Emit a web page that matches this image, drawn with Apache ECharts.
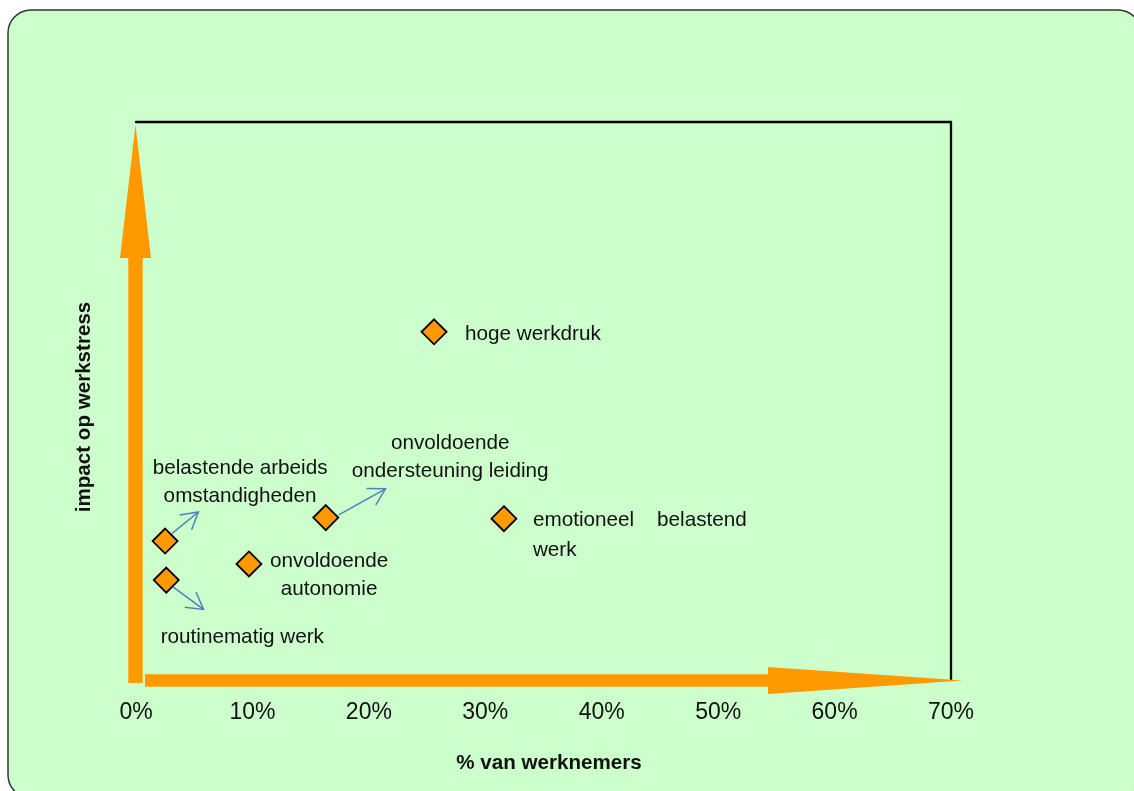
<!DOCTYPE html>
<html>
<head>
<meta charset="utf-8">
<script src="https://cdn.jsdelivr.net/npm/echarts@6/dist/echarts.min.js"></script>
<style>
  html, body { margin: 0; padding: 0; background: #ffffff; }
  #chart { width: 1134px; height: 791px; }
</style>
</head>
<body>
<div id="chart"></div>
<script>
// Stressoren: aandeel werknemers (x, %) tegenover impact op werkstress (y)
const categories = [
  'hoge werkdruk',
  'emotioneel belastend werk',
  'onvoldoende ondersteuning leiding',
  'onvoldoende autonomie',
  'belastende arbeidsomstandigheden',
  'routinematig werk'
];
const workerShare = [25.6, 31.6, 16.3, 9.7, 2.5, 2.6];
const stressImpact = [6.24, 2.89, 2.91, 2.08, 2.49, 1.79];
const labelTexts = [
  'hoge werkdruk',
  'emotioneel    belastend\nwerk',
  'onvoldoende\nondersteuning leiding',
  'onvoldoende\nautonomie',
  'belastende arbeids\nomstandigheden',
  'routinematig werk'
];
const xTicks = [0, 10, 20, 30, 40, 50, 60, 70];
const yRange = [0, 10];

// Label placement around each marker (pixels from the marker centre)
const labelLayout = [
  { align: 'left',   offset: [31, 2.5],    lineHeight: 28 },
  { align: 'left',   offset: [29, 17],     lineHeight: 30 },
  { align: 'center', offset: [124.4, -60.5], lineHeight: 28 },
  { align: 'center', offset: [80.2, 11.6], lineHeight: 28 },
  { align: 'center', offset: [75, -58.6],  lineHeight: 28 },
  { align: 'center', offset: [76, 56.8],   lineHeight: 28 }
];
// Small pointer arrows from a marker towards its label: [markerIndex, start offset, end offset]
const pointers = [
  [4, [6.7, -7.5], [33.3, -29.1]],
  [2, [13, -2.8], [59.7, -28.8]],
  [5, [6.7, 6.7], [37.3, 29.3]]
];

const FONT = '"Liberation Sans", Arial, sans-serif';
const ORANGE = '#ff9900';
const chart = echarts.init(document.getElementById('chart'), null, { renderer: 'canvas' });

const xMin = xTicks[0], xMax = xTicks[xTicks.length - 1];

const option = {
  animation: false,
  backgroundColor: 'transparent',
  grid: { left: 136, right: 183, top: 122, bottom: 111, containLabel: false, outerBoundsMode: 'none' },
  xAxis: [
    {
      type: 'value', min: xMin, max: xMax, interval: xTicks[1] - xTicks[0], position: 'bottom',
      axisLine: { show: false }, axisTick: { show: false }, splitLine: { show: false },
      axisLabel: {
        show: true, margin: 21, color: '#111', fontSize: 23, fontFamily: FONT,
        showMinLabel: true, showMaxLabel: true,
        formatter: v => v + '%'
      },
      name: '% van werknemers', nameLocation: 'middle', nameGap: 73,
      nameTextStyle: { color: '#111', fontSize: 20.6, fontWeight: 'bold', fontFamily: FONT, padding: [0, 0, 0, 11] }
    },
    {
      type: 'value', min: xMin, max: xMax, position: 'top',
      axisLine: { show: true, onZero: false, lineStyle: { color: '#000', width: 2.3 } },
      axisTick: { show: false }, axisLabel: { show: false }, splitLine: { show: false }
    }
  ],
  yAxis: [
    {
      type: 'value', min: yRange[0], max: yRange[1], position: 'left',
      axisLine: { show: false }, axisTick: { show: false }, axisLabel: { show: false }, splitLine: { show: false },
      name: 'impact op werkstress', nameLocation: 'middle', nameGap: 41,
      nameTextStyle: { color: '#111', fontSize: 20.6, fontWeight: 'bold', fontFamily: FONT, padding: [0, 12, 0, 0] }
    },
    {
      type: 'value', min: yRange[0], max: yRange[1], position: 'right',
      axisLine: { show: true, onZero: false, lineStyle: { color: '#000', width: 2.3 } },
      axisTick: { show: false }, axisLabel: { show: false }, splitLine: { show: false }
    }
  ],
  series: [{
    type: 'scatter',
    xAxisIndex: 0, yAxisIndex: 0,
    symbol: 'diamond',
    symbolSize: 25,
    z: 5,
    itemStyle: { color: ORANGE, borderColor: '#000', borderWidth: 1.8, opacity: 1 },
    emphasis: { disabled: true },
    data: workerShare.map((x, i) => ({
      name: categories[i],
      value: [x, stressImpact[i]],
      label: {
        show: true,
        position: 'inside',
        align: labelLayout[i].align,
        verticalAlign: 'middle',
        offset: labelLayout[i].offset,
        lineHeight: labelLayout[i].lineHeight,
        formatter: labelTexts[i],
        color: '#111',
        fontSize: 20.7,
        fontFamily: FONT
      }
    }))
  }]
};
chart.setOption(option);

// Decorative frame, axis arrows and pointers, placed from the chart's own scales
function px(x, y) { return chart.convertToPixel({ xAxisIndex: 0, yAxisIndex: 0 }, [x, y]); }

const origin = px(xMin, yRange[0]);
const topPt = px(xMin, yRange[1]);
const rightPt = px(xMax, yRange[0]);

const vx = origin[0] - 0.5;
const vTip = topPt[1] + 3, vBottom = origin[1] + 3, vHead = 133;
const vArrow = [
  [vx - 7.2, vBottom], [vx - 7.2, vTip + vHead], [vx - 15.5, vTip + vHead], [vx, vTip],
  [vx + 15.5, vTip + vHead], [vx + 7.2, vTip + vHead], [vx + 7.2, vBottom]
];
const hy = origin[1] + 0.5;
const hStart = origin[0] + 9, hTip = rightPt[0] + 12, hHead = 195;
const hArrow = [
  [hStart, hy - 6.3], [hTip - hHead, hy - 6.3], [hTip - hHead, hy - 13.5], [hTip, hy],
  [hTip - hHead, hy + 13.5], [hTip - hHead, hy + 6.3], [hStart, hy + 6.3]
];

const graphics = [
  {
    type: 'rect', z: -10, silent: true,
    shape: { x: 8, y: 10, width: 1133, height: 788, r: 23 },
    style: { fill: '#ccffcc', stroke: '#333333', lineWidth: 1.5 }
  },
  { type: 'polygon', z: 10, silent: true, shape: { points: vArrow }, style: { fill: ORANGE } },
  { type: 'polygon', z: 10, silent: true, shape: { points: hArrow }, style: { fill: ORANGE } }
];

const BLUE = '#4f81bd';
pointers.forEach(([idx, s, e]) => {
  const c = px(workerShare[idx], stressImpact[idx]);
  const a = [c[0] + s[0], c[1] + s[1]];
  const b = [c[0] + e[0], c[1] + e[1]];
  const ang = Math.atan2(a[1] - b[1], a[0] - b[0]);
  const arm = 19, spread = Math.PI / 6;
  const p1 = [b[0] + arm * Math.cos(ang + spread), b[1] + arm * Math.sin(ang + spread)];
  const p2 = [b[0] + arm * Math.cos(ang - spread), b[1] + arm * Math.sin(ang - spread)];
  graphics.push({ type: 'line', z: 10, silent: true, shape: { x1: a[0], y1: a[1], x2: b[0], y2: b[1] },
    style: { stroke: BLUE, lineWidth: 1.5 } });
  graphics.push({ type: 'polyline', z: 10, silent: true, shape: { points: [p1, b, p2] },
    style: { stroke: BLUE, lineWidth: 1.5, fill: null } });
});

chart.setOption({ graphic: graphics });
</script>
</body>
</html>
